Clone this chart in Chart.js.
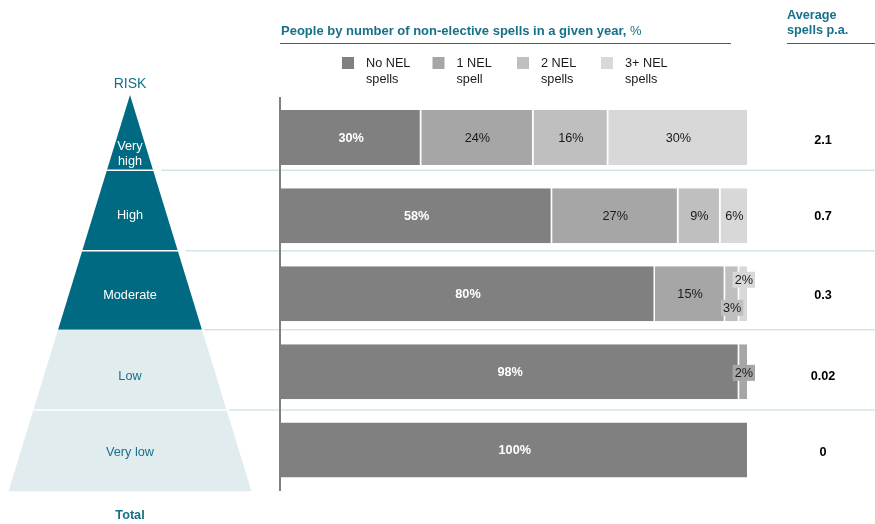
<!DOCTYPE html>
<html>
<head>
<meta charset="utf-8">
<script src="https://cdn.jsdelivr.net/npm/chart.js@4"></script>
<style>
  html, body { margin: 0; padding: 0; background: #ffffff; }
  #wrap { position: relative; width: 875px; height: 524px; }
</style>
</head>
<body>
<div id="wrap"><canvas id="c" width="875" height="524"></canvas></div>
<script>
// ---- Data ----
const riskLevels = ['Very high', 'High', 'Moderate', 'Low', 'Very low'];
const seriesNames = ['No NEL spells', '1 NEL spell', '2 NEL spells', '3+ NEL spells'];
const noNelSpells = [30, 58, 80, 98, 100];
const oneNelSpell = [24, 27, 15, 2, 0];
const twoNelSpells = [16, 9, 3, 0, 0];
const threePlusNelSpells = [30, 6, 2, 0, 0];
const averageSpells = ['2.1', '0.7', '0.3', '0.02', '0'];
const chartTitle = 'People by number of non-elective spells in a given year,';
const chartTitleUnit = ' %';
const avgHeader = ['Average', 'spells p.a.'];
const pyramidTitle = 'RISK';
const totalLabel = 'Total';

// ---- Styles ----
const FONT = "Arial, 'Liberation Sans', sans-serif";
const FS = '12.7px ';
const TEAL_TEXT = '#17708a';
const TEAL_DARK = '#006a82';
const TEAL_LIGHT = '#e0ecee';
const SEP_COLOR = '#d3e5ea';
const seriesColors = ['#808080', '#a6a6a6', '#bfbfbf', '#d8d8d8'];
const seriesValues = [noNelSpells, oneNelSpell, twoNelSpells, threePlusNelSpells];

const datasets = seriesNames.map((name, i) => ({
  label: name,
  data: seriesValues[i],
  backgroundColor: seriesColors[i],
  borderColor: '#ffffff',
  borderWidth: { left: 0, top: 0, bottom: 0, right: 1.5 },
  borderSkipped: false,
  barPercentage: 0.704,
  categoryPercentage: 1.0
}));

const decorPlugin = {
  id: 'decor',
  beforeDatasetsDraw(chart) {
    const ctx = chart.ctx;
    const ys = chart.scales.y;
    const band = ys.getPixelForValue(1) - ys.getPixelForValue(0);
    const c0 = ys.getPixelForValue(0);
    const yAt = v => c0 + v * band;
    // pyramid (edges in category units)
    const edges = [-0.545, 0.42, 1.45, 2.46, 3.49, 4.53];
    const apexY = yAt(edges[0]);
    const baseY = yAt(edges[edges.length - 1]);
    const cx = 130;
    const halfBase = 121.5;
    const hw = y => halfBase * (y - apexY) / (baseY - apexY);
    const segFill = [TEAL_DARK, TEAL_DARK, TEAL_DARK, TEAL_LIGHT, TEAL_LIGHT];
    for (let i = 0; i < 5; i++) {
      const t = yAt(edges[i]);
      const b = yAt(edges[i + 1]);
      ctx.beginPath();
      ctx.moveTo(cx - hw(t), t);
      ctx.lineTo(cx + hw(t), t);
      ctx.lineTo(cx + hw(b), b);
      ctx.lineTo(cx - hw(b), b);
      ctx.closePath();
      ctx.fillStyle = segFill[i];
      ctx.fill();
    }
    // white gaps between pyramid segments
    ctx.strokeStyle = '#ffffff';
    ctx.lineWidth = 1.5;
    [1, 2, 4].forEach(k => {
      const y = yAt(edges[k]);
      ctx.beginPath();
      ctx.moveTo(cx - hw(y) - 2, y);
      ctx.lineTo(cx + hw(y) + 2, y);
      ctx.stroke();
    });
    // separator lines
    ctx.strokeStyle = SEP_COLOR;
    ctx.lineWidth = 1.5;
    const gapStart = [0, 8, 8, 2, 2];
    for (let k = 1; k <= 4; k++) {
      const y = yAt(edges[k]);
      ctx.beginPath();
      ctx.moveTo(cx + hw(y) + gapStart[k], y);
      ctx.lineTo(875, y);
      ctx.stroke();
    }
    // pyramid labels
    ctx.textAlign = 'center';
    ctx.textBaseline = 'middle';
    ctx.font = FS + FONT;
    const labelOffsets = [0, 0, 2, 5, 3];
    riskLevels.forEach((lab, i) => {
      ctx.fillStyle = i < 3 ? '#ffffff' : TEAL_TEXT;
      const c = ys.getPixelForValue(i);
      if (i === 0) {
        const parts = lab.split(' ');
        ctx.fillText(parts[0], cx, c + 8.5);
        ctx.fillText(parts[1], cx, c + 23.5);
      } else {
        ctx.fillText(lab, cx, c + labelOffsets[i]);
      }
    });
    ctx.fillStyle = TEAL_TEXT;
    ctx.font = '14px ' + FONT;
    ctx.fillText(pyramidTitle, cx, 84);
    ctx.font = 'bold ' + FS + FONT;
    ctx.fillText(totalLabel, cx, 515);
  },
  afterDatasetsDraw(chart) {
    const ctx = chart.ctx;
    const ys = chart.scales.y;
    const xs = chart.scales.x;
    const area = chart.chartArea;
    // axis line
    ctx.strokeStyle = '#7f7f7f';
    ctx.lineWidth = 2;
    ctx.beginPath();
    ctx.moveTo(area.left - 1, area.top - 1.5);
    ctx.lineTo(area.left - 1, area.bottom + 2);
    ctx.stroke();
    // data labels
    ctx.textAlign = 'center';
    ctx.textBaseline = 'middle';
    riskLevels.forEach((lab, r) => {
      let cum = 0;
      const smallIdx = [];
      seriesValues.forEach((vals, s) => { if (vals[r] > 0 && vals[r] < 4) smallIdx.push(s); });
      seriesValues.forEach((vals, s) => {
        const v = vals[r];
        const x0 = xs.getPixelForValue(cum);
        const x1 = xs.getPixelForValue(cum + v);
        cum += v;
        if (v <= 0) return;
        const xc = (x0 + x1) / 2;
        const yc = ys.getPixelForValue(r);
        const txt = v + '%';
        if (s === 0) {
          ctx.font = 'bold ' + FS + FONT;
          ctx.fillStyle = '#ffffff';
          ctx.fillText(txt, xc, yc + 1);
        } else if (v >= 4) {
          ctx.font = FS + FONT;
          ctx.fillStyle = '#1a1a1a';
          ctx.fillText(txt, xc, yc + 1);
        } else {
          ctx.font = FS + FONT;
          let dy = 1;
          if (smallIdx.length > 1) {
            dy = smallIdx.indexOf(s) === 0 ? 14 : -14;
          }
          const w = ctx.measureText(txt).width + 4;
          const h = 16;
          ctx.fillStyle = seriesColors[s];
          ctx.fillRect(xc - w / 2, yc + dy - h / 2, w, h);
          ctx.fillStyle = '#1a1a1a';
          ctx.fillText(txt, xc, yc + dy + 0.5);
        }
      });
      // average spells column
      ctx.font = 'bold ' + FS + FONT;
      ctx.fillStyle = '#000000';
      const offs = [2.5, 1, 2, 4.5, 3];
      ctx.fillText(averageSpells[r], 823, ys.getPixelForValue(r) + offs[r]);
    });
    // title and headers
    ctx.textAlign = 'left';
    ctx.textBaseline = 'middle';
    ctx.font = 'bold 13px ' + FONT;
    ctx.fillStyle = TEAL_TEXT;
    ctx.fillText(chartTitle, 281, 31);
    const tw = ctx.measureText(chartTitle).width;
    ctx.font = '13px ' + FONT;
    ctx.fillText(chartTitleUnit, 281 + tw, 31);
    ctx.font = 'bold ' + FS + FONT;
    ctx.fillText(avgHeader[0], 787, 15);
    ctx.fillText(avgHeader[1], 787, 30);
    ctx.strokeStyle = TEAL_TEXT;
    ctx.lineWidth = 1;
    ctx.beginPath();
    ctx.moveTo(280, 43.5); ctx.lineTo(731, 43.5);
    ctx.moveTo(787, 43.5); ctx.lineTo(875, 43.5);
    ctx.stroke();
    // legend
    const legX = [342, 432.5, 517, 601];
    ctx.font = FS + FONT;
    seriesNames.forEach((name, i) => {
      ctx.fillStyle = seriesColors[i];
      ctx.fillRect(legX[i], 57, 12, 12);
      const cut = name.lastIndexOf(' ');
      ctx.fillStyle = '#1a1a1a';
      ctx.fillText(name.slice(0, cut), legX[i] + 24, 63.5);
      ctx.fillText(name.slice(cut + 1), legX[i] + 24, 79);
    });
  }
};

new Chart(document.getElementById('c'), {
  type: 'bar',
  data: { labels: riskLevels, datasets: datasets },
  options: {
    indexAxis: 'y',
    responsive: false,
    animation: false,
    layout: { padding: { left: 281, right: 126.5, top: 98.5, bottom: 35 } },
    scales: {
      x: { stacked: true, min: 0, max: 100, display: false },
      y: { stacked: true, display: false }
    },
    plugins: {
      legend: { display: false },
      tooltip: { enabled: false },
      title: { display: false }
    }
  },
  plugins: [decorPlugin]
});
</script>
</body>
</html>
